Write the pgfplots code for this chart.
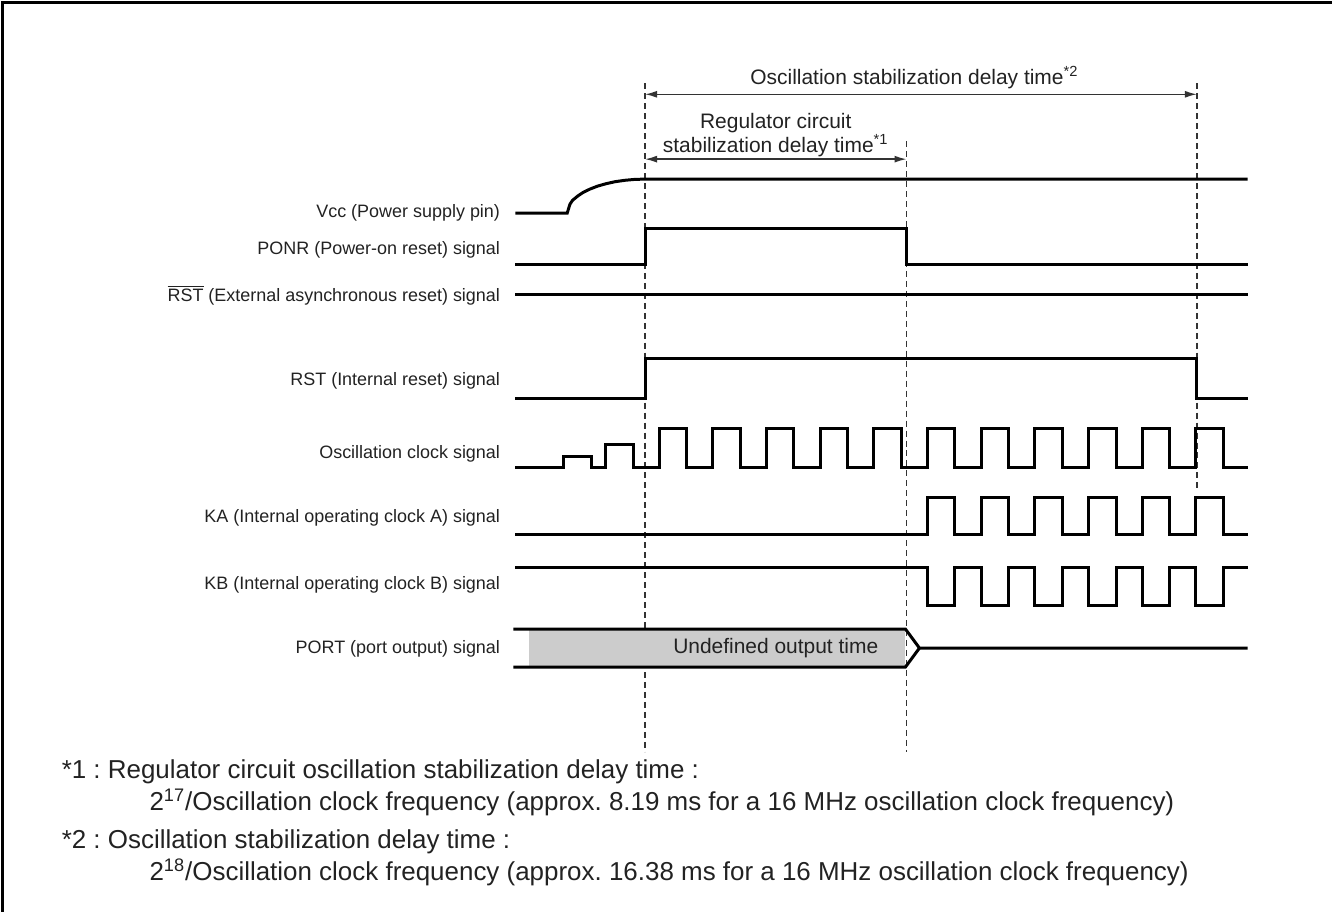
\documentclass[border=0pt]{standalone}
\usepackage{pgfplots}
\pgfplotsset{compat=1.18}
\usetikzlibrary{arrows.meta}
\usepackage{fontspec}
\setmainfont{Liberation Sans}
\definecolor{txt}{HTML}{222222}
\definecolor{undef}{HTML}{CCCCCC}
\newcommand{\ovl}[1]{$\overline{\hbox{#1}}$}
\frenchspacing
\begin{document}
\begin{tikzpicture}[
 sig/.style={black, line width=1.5pt, line join=miter},
 dsh/.style={black!80, line width=0.7pt, dash pattern=on 3pt off 2pt},
 arr/.style={black!80, line width=0.7pt, {Latex[length=6pt,width=3.5pt]}-{Latex[length=6pt,width=3.5pt]}},
 lbl/.style={font=\fontsize{9}{11}\selectfont, text=txt, anchor=east, inner sep=0pt},
 ann/.style={font=\fontsize{10.5}{12}\selectfont, text=txt, inner sep=0pt},
 fn/.style={font=\fontsize{13}{15}\selectfont, text=txt, anchor=west, inner sep=0pt},
]
\begin{axis}[
 scale only axis, width=666.5pt, height=456.5pt,
 xmin=0,xmax=1333,ymin=0,ymax=913, y dir=reverse,
 hide axis, clip=false, every axis plot/.append style={no marks},
]
\path (axis cs:0,0) rectangle (axis cs:1333,913);
% frame
\addplot[black, line width=1.5pt] coordinates {(0,1.5) (1333,1.5)};
\addplot[black, line width=1.5pt] coordinates {(1.5,0) (1.5,913)};

% dashed guides
\addplot[dsh] coordinates {(645,82) (645,752)};
\addplot[dsh] coordinates {(907,140) (907,752)};
\addplot[dsh] coordinates {(1198,82) (1198,490)};

% arrows
\addplot[arr] coordinates {(645,93) (1198,93)};
\addplot[arr] coordinates {(645,158) (907,158)};
\node[ann, anchor=base] at (axis cs:915,83) {Oscillation stabilization delay time\textsuperscript{*2}};
\node[ann, anchor=base] at (axis cs:776,127) {Regulator circuit};
\node[ann, anchor=base] at (axis cs:776,151) {stabilization delay time\textsuperscript{*1}};

% Vcc
\addplot[sig] coordinates {(515,212) (567,212) (569.7,203.2) (572.4,199.2) (577.5,195) (583,191.3) (589.8,188) (597.5,185) (606,182.6) (615,180.6) (624.8,179.2) (634.7,178.3) (645,178) (1249,178)};
% PONR
\addplot[sig] coordinates {(515,264) (645,264) (645,228) (907,228) (907,264) (1249,264)};
% RST bar
\addplot[sig] coordinates {(515,294) (1249,294)};
% RST internal
\addplot[sig] coordinates {(515,398) (645,398) (645,358) (1198,358) (1198,398) (1249,398)};
% Oscillation clock
\addplot[sig] coordinates {(515,467) (563,467) (563,456) (591,456) (591,467) (605,467) (605,444) (633,444) (633,467)
 (659,467) (659,428) (686.6,428) (686.6,467)
 (712.8,467) (712.8,428) (740.4,428) (740.4,467)
 (766.6,467) (766.6,428) (794.2,428) (794.2,467)
 (820.4,467) (820.4,428) (848,428) (848,467)
 (874.2,467) (874.2,428) (901.8,428) (901.8,467)
 (928,467) (928,428) (955.6,428) (955.6,467)
 (981.8,467) (981.8,428) (1009.4,428) (1009.4,467)
 (1035.6,467) (1035.6,428) (1063.2,428) (1063.2,467)
 (1089.4,467) (1089.4,428) (1117,428) (1117,467)
 (1143.2,467) (1143.2,428) (1170.8,428) (1170.8,467)
 (1197,467) (1197,428) (1224.6,428) (1224.6,467) (1249,467)};
% KA
\addplot[sig] coordinates {(515,534)
 (928,534) (928,497) (955.6,497) (955.6,534)
 (981.8,534) (981.8,497) (1009.4,497) (1009.4,534)
 (1035.6,534) (1035.6,497) (1063.2,497) (1063.2,534)
 (1089.4,534) (1089.4,497) (1117,497) (1117,534)
 (1143.2,534) (1143.2,497) (1170.8,497) (1170.8,534)
 (1197,534) (1197,497) (1224.6,497) (1224.6,534) (1249,534)};
% KB
\addplot[sig] coordinates {(515,567)
 (928,567) (928,605) (955.6,605) (955.6,567)
 (981.8,567) (981.8,605) (1009.4,605) (1009.4,567)
 (1035.6,567) (1035.6,605) (1063.2,605) (1063.2,567)
 (1089.4,567) (1089.4,605) (1117,605) (1117,567)
 (1143.2,567) (1143.2,605) (1170.8,605) (1170.8,567)
 (1197,567) (1197,605) (1224.6,605) (1224.6,567) (1249,567)};
% PORT
\addplot[fill=undef, draw=none] coordinates {(529,629) (906,629) (906,667) (529,667)} -- cycle;
\addplot[sig] coordinates {(513,629) (906,629) (920,648) (1249,648)};
\addplot[sig] coordinates {(513,667) (906,667) (920,648)};
\node[ann] at (axis cs:776,648) {Undefined output time};

% labels
\node[lbl] at (axis cs:500,212) {Vcc (Power supply pin)};
\node[lbl] at (axis cs:500,249) {PONR (Power-on reset) signal};
\node[lbl] at (axis cs:500,294) {\ovl{RST} (External asynchronous reset) signal};
\node[lbl] at (axis cs:500,380) {RST (Internal reset) signal};
\node[lbl] at (axis cs:500,453) {Oscillation clock signal};
\node[lbl] at (axis cs:500,518) {KA (Internal operating clock A) signal};
\node[lbl] at (axis cs:500,585) {KB (Internal operating clock B) signal};
\node[lbl] at (axis cs:500,649) {PORT (port output) signal};

% footnotes
\node[fn] at (axis cs:60,772) {*1 : Regulator circuit oscillation stabilization delay time :};
\node[fn] at (axis cs:148,803) {2\textsuperscript{17}/Oscillation clock frequency (approx. 8.19 ms for a 16 MHz oscillation clock frequency)};
\node[fn] at (axis cs:60,842) {*2 : Oscillation stabilization delay time :};
\node[fn] at (axis cs:148,873) {2\textsuperscript{18}/Oscillation clock frequency (approx. 16.38 ms for a 16 MHz oscillation clock frequency)};
\end{axis}
\end{tikzpicture}
\end{document}
